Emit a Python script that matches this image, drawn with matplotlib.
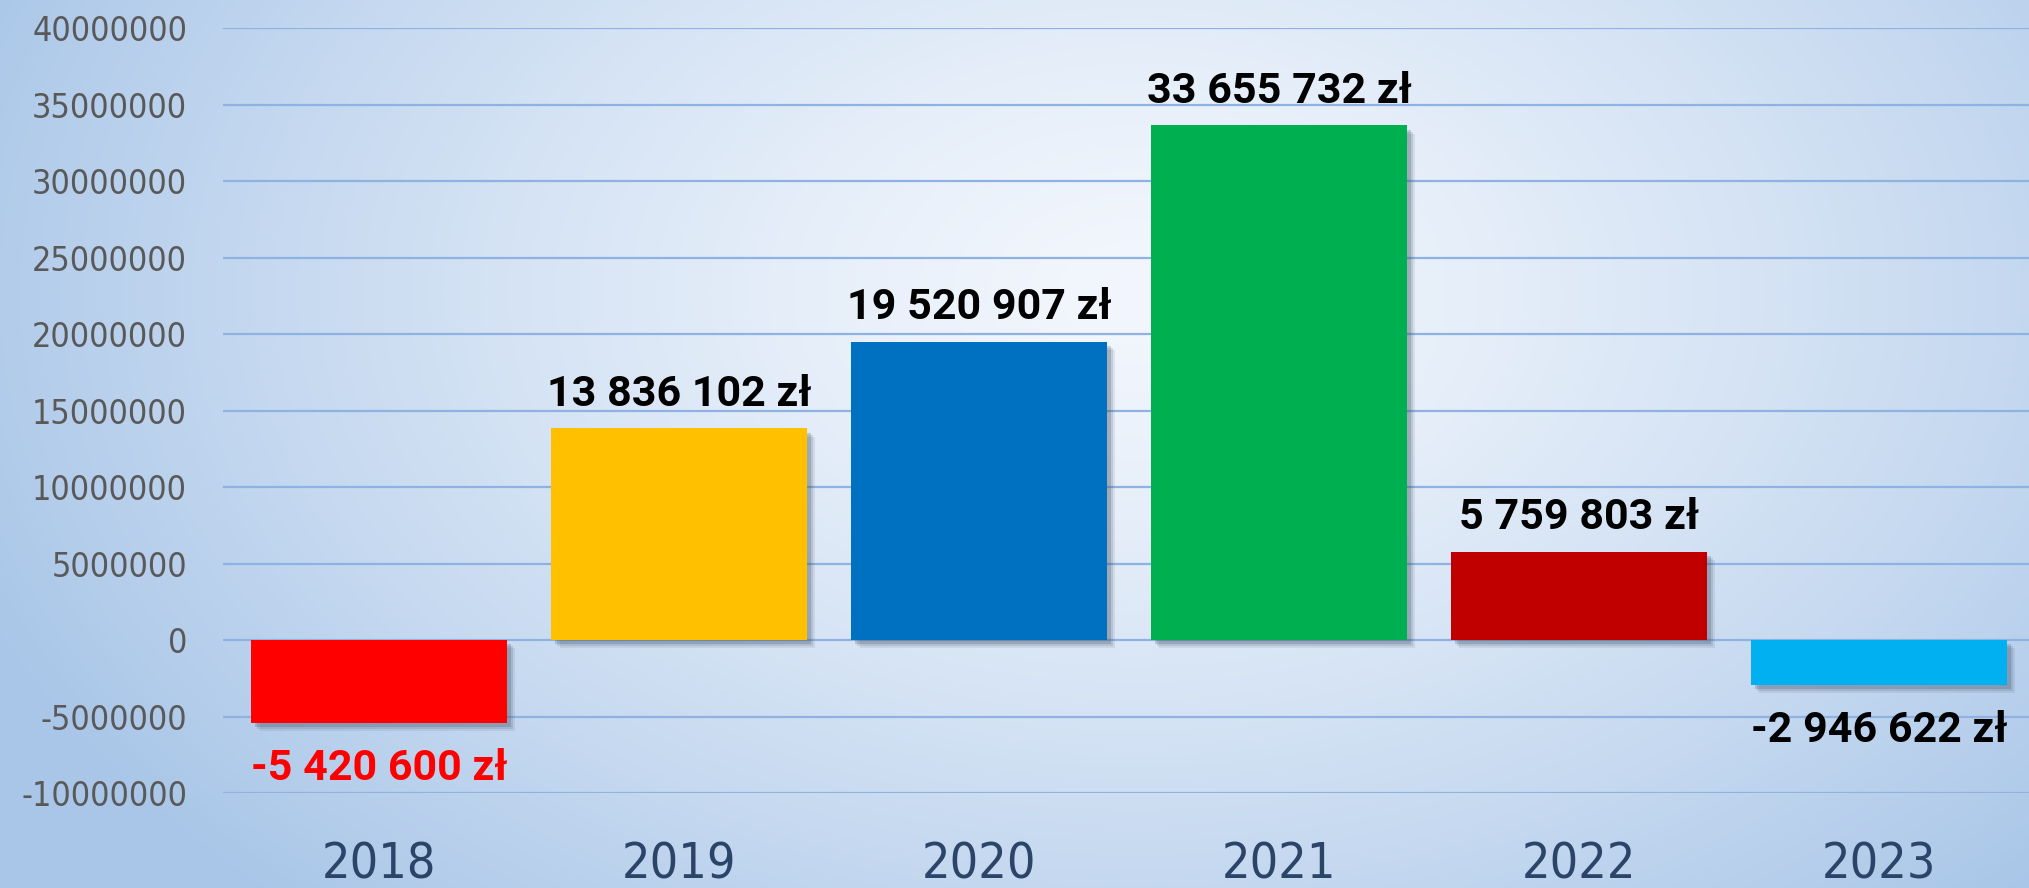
import numpy as np
import matplotlib
matplotlib.use("Agg")
import matplotlib.pyplot as plt
import matplotlib.patheffects as pe
from matplotlib import font_manager
from matplotlib.colors import to_rgb

# ── Data ──────────────────────────────────────────────────────────────────────
YEARS  = ["2018", "2019", "2020", "2021", "2022", "2023"]
VALUES = [-5420600, 13836102, 19520907, 33655732, 5759803, -2946622]
LABELS = ["-5 420 600 zł", "13 836 102 zł", "19 520 907 zł",
          "33 655 732 zł", "5 759 803 zł", "-2 946 622 zł"]
BAR_COLORS   = ["#FF0000", "#FFC000", "#0070C0", "#00B050", "#C00000", "#00B0F0"]
LABEL_COLORS = ["#FF0000", "#000000", "#000000", "#000000", "#000000", "#000000"]
YTICKS = list(range(-10000000, 40000001, 5000000))

# narrow font for the axis text if one is installed
narrow = None
for f in font_manager.fontManager.ttflist:
    n = f.fname.lower()
    if ("condensed" in n or "narrow" in n) and "bold" not in n and "oblique" not in n \
            and "italic" not in n and "mono" not in n and "serif" not in n.replace("sans", ""):
        narrow = font_manager.FontProperties(fname=f.fname)
        break

LABEL_FONT = ["Roboto", "DejaVu Sans"]

# ── Figure + radial background ────────────────────────────────────────────────
fig = plt.figure(figsize=(20.29, 8.88), dpi=100)

bg = fig.add_axes([0, 0, 1, 1], zorder=-10)
h, w = 300, 680
yy, xx = np.mgrid[0:1:h * 1j, 0:1:w * 1j]
r = np.sqrt(((xx - 0.56) / 0.62) ** 2 + ((yy - 0.33) / 0.95) ** 2)
t = np.clip(r, 0, 1) ** 1.3
c0 = np.array(to_rgb("#f3f7fd"))
c1 = np.array(to_rgb("#a9c6e8"))
img = c0[None, None, :] * (1 - t[..., None]) + c1[None, None, :] * t[..., None]
bg.imshow(img, aspect="auto", extent=[0, 1, 1, 0], interpolation="bilinear")
bg.set_axis_off()

ax = fig.add_axes([0.110, 0.107, 0.890, 0.861])
ax.patch.set_alpha(0)
for s in ax.spines.values():
    s.set_visible(False)

x = np.arange(len(YEARS))
ax.set_xlim(-0.52, 5.5)
ax.set_ylim(-10000000, 40000000)

for yv in YTICKS:
    ax.axhline(yv, color="#8EB3E3", linewidth=1.6, zorder=1)

shadow = [
    pe.SimplePatchShadow(offset=(6, -6), shadow_rgbFace="#3a4a60", alpha=0.10),
    pe.SimplePatchShadow(offset=(4.5, -4.5), shadow_rgbFace="#3a4a60", alpha=0.15),
    pe.SimplePatchShadow(offset=(3, -3), shadow_rgbFace="#3a4a60", alpha=0.22),
    pe.Normal(),
]
bars = ax.bar(x, VALUES, width=0.853, color=BAR_COLORS, zorder=3)
for b in bars:
    b.set_path_effects(shadow)

for xi, v, lab, col in zip(x, VALUES, LABELS, LABEL_COLORS):
    dy = 16.5 if v >= 0 else -41
    ax.annotate(lab, (xi, v), xytext=(0, dy), textcoords="offset points",
                ha="center", va="baseline", fontsize=31, fontweight="bold",
                color=col, family=LABEL_FONT, zorder=4)

ax.set_yticks(YTICKS)
ax.set_xticks(x)
if narrow is not None:
    ytl = ax.set_yticklabels([str(v) for v in YTICKS], color="#595959", fontproperties=narrow)
    xtl = ax.set_xticklabels(YEARS, color="#2B4468", fontproperties=narrow)
    for t_ in ytl:
        t_.set_fontsize(24.5)
    for t_ in xtl:
        t_.set_fontsize(36)
else:
    ax.set_yticklabels([str(v) for v in YTICKS], fontsize=24, color="#595959",
                       family=["Noto Sans", "DejaVu Sans"])
    ax.set_xticklabels(YEARS, fontsize=36, color="#2B4468",
                       family=["Noto Sans", "DejaVu Sans"])
ax.tick_params(axis="y", length=0, pad=26)
ax.tick_params(axis="x", length=0, pad=34)

fig.savefig("out.png", dpi=100)
